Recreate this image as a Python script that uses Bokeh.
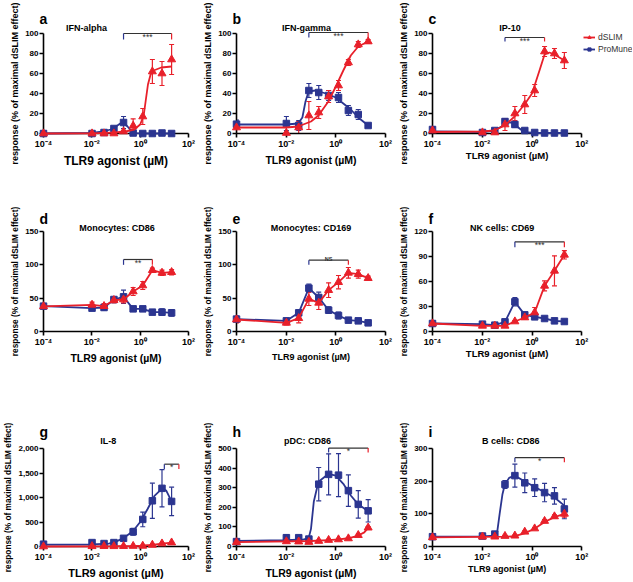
from bokeh.plotting import figure
from bokeh.layouts import gridplot
from bokeh.models import (Range1d, FixedTicker, CustomJSTickFormatter, NumeralTickFormatter,
                          Whisker, TeeHead, ColumnDataSource, Legend, LegendItem)
from bokeh.embed import file_html
from bokeh.resources import INLINE
from bokeh.core.properties import value

# ------------------------------------------------------------------ data
dose = [1e-4, 0.0102, 0.032, 0.082, 0.205, 0.512, 1.28, 3.2, 8.0, 20.0]
x_ticks = [1e-4, 1e-2, 1, 100]

# a  IFN-alpha
a_dslim = [0, 0, 0, 0, 2, 7.7, 17, 62, 60, 74]
a_dslim_err = [0.5, 0.5, 0.5, 0.5, 1, 7, 8, 12, 12, 15]
a_promune = [0, 0, 1, 5, 11, 0.5, 0, 0, 0.5, 0]
a_promune_err = [0.5, 0.5, 0.5, 1.5, 6, 0.5, 0.3, 0.3, 0.3, 0.3]
a_fit_dslim_x = [1e-4, 0.01, 0.1, 0.3, 0.57, 1.0, 1.4, 1.7, 2.1, 2.7, 3.6, 7.5, 20]
a_fit_dslim_y = [0, 0.2, 1, 2.5, 4, 9, 18, 33, 49, 59, 63, 66, 67]
a_fit_promune_x = [1e-4, 0.01, 0.03, 0.06, 0.1, 0.15, 0.2, 0.3, 0.45, 0.7, 1.5, 20]
a_fit_promune_y = [0, 0.5, 2, 4, 7, 10, 11, 7, 2, 0.3, 0, 0]

# b  IFN-gamma
b_dslim = [6, 0.5, 6, 18, 21, 37, 48, 71, 89, 92]
b_dslim_err = [6, 0.5, 6, 14, 6, 6, 5, 3, 3, 2]
b_promune = [9.3, 10, 8, 43, 41, 38, 36, 23, 19, 8]
b_promune_err = [4, 7, 5, 7, 7, 5, 5, 5, 5, 2]
b_fit_dslim_x = [1e-4, 0.01, 0.03, 0.1, 0.2, 0.5, 1, 2, 4, 8, 20]
b_fit_dslim_y = [6, 6, 7, 12, 18, 32, 47, 63, 78, 87, 92]
b_fit_promune_x = [1e-4, 0.01, 0.03, 0.045, 0.06, 0.08, 0.15, 0.4, 1, 2, 4, 8, 20]
b_fit_promune_y = [9, 9, 10, 16, 32, 42, 43, 40, 36, 30, 24, 16, 8]

# c  IP-10
c_dslim = [3, 1, 1, 9, 20, 29, 43, 82, 80, 73]
c_dslim_err = [4, 1, 1, 6, 7, 9, 6, 5, 5, 8]
c_promune = [4, 1, 3, 12, 9, 3, 1, 0.5, 0.5, 0.5]
c_promune_err = [3, 1, 1, 3, 3, 1, 0.5, 0.3, 0.3, 0.3]
c_fit_dslim_x = [1e-4, 0.01, 0.03, 0.08, 0.2, 0.5, 1, 2, 3.2, 5, 8, 20]
c_fit_dslim_y = [1.5, 2, 3, 8, 17, 29, 40, 63, 79, 81, 79, 73]
c_fit_promune_x = [1e-4, 0.01, 0.03, 0.06, 0.1, 0.15, 0.25, 0.4, 0.7, 1.5, 20]
c_fit_promune_y = [2, 1.5, 3, 7, 11, 11, 7, 3, 1, 0.5, 0.5]

# d  Monocytes: CD86
d_dslim = [37.7, 40, 38, 47, 48, 60, 69, 92, 88, 89]
d_dslim_err = [3, 4, 4, 4, 5, 6, 6, 3, 4, 4]
d_promune = [38, 35, 36, 48, 52, 34, 34, 29, 29, 28]
d_promune_err = [3, 3, 4, 2, 10, 2, 2, 3, 5, 5]

# e  Monocytes: CD169
e_dslim = [18, 13, 20, 49, 43, 62, 74, 88, 86, 80]
e_dslim_err = [5, 3, 7, 10, 10, 11, 10, 8, 6, 3]
e_promune = [18.6, 16, 28, 65, 51, 32, 24, 17, 16, 13]
e_promune_err = [4, 2, 4, 6, 8, 5, 5, 2, 2, 2]

# f  NK cells: CD69
f_dslim = [9.6, 6.8, 6.8, 6.8, 12, 16.8, 22.8, 54.8, 72.8, 92]
f_dslim_err = [3, 2, 2, 2, 1, 2, 6, 6, 18, 5]
f_promune = [9.6, 8.8, 7.6, 11.6, 35.6, 20, 17.6, 15.6, 12.8, 12]
f_promune_err = [2, 2, 2, 2, 5, 2, 2, 1, 1, 1]

# g  IL-8
g_dslim = [0, 5, 7, 5, 7, 10, 13, 33, 60, 80]
g_dslim_err = [3, 3, 3, 3, 3, 3, 5, 8, 10, 12]
g_promune = [47, 80, 60, 80, 167, 300, 553, 933, 1187, 920]
g_promune_err = [15, 40, 20, 20, 30, 70, 150, 360, 380, 290]
g_fit_dslim_x = [1e-4, 0.1, 0.5, 1, 3, 8, 20]
g_fit_dslim_y = [0, 5, 10, 15, 33, 60, 80]
g_fit_promune_x = [1e-4, 0.01, 0.05, 0.1, 0.2, 0.5, 1, 2, 4, 8, 12, 20]
g_fit_promune_y = [40, 45, 60, 100, 170, 310, 500, 760, 1040, 1180, 1140, 920]

# h  pDC: CD86
h_dslim = [21.5, 26, 25, 23, 28, 33, 36, 41, 58, 96]
h_dslim_err = [5, 3, 3, 3, 3, 3, 3, 4, 5, 5]
h_promune = [25, 45, 45, 38, 318, 368, 364, 285, 215, 182]
h_promune_err = [10, 15, 10, 5, 85, 105, 110, 80, 70, 57]
h_fit_dslim_x = [1e-4, 0.1, 0.5, 1.3, 3.2, 8, 14, 20]
h_fit_dslim_y = [22, 28, 33, 36, 42, 56, 72, 95]
h_fit_promune_x = [1e-4, 0.01, 0.05, 0.08, 0.1, 0.13, 0.2, 0.5, 1, 2, 4, 8, 20]
h_fit_promune_y = [28, 32, 36, 42, 90, 230, 330, 370, 362, 320, 260, 215, 180]

# i  B cells: CD86
i_dslim = [28, 30, 30, 32, 33, 45, 55, 78, 92, 100]
i_dslim_err = [2, 2, 2, 2, 2, 3, 3, 4, 5, 10]
i_promune = [30, 32, 38, 190, 217, 195, 180, 165, 155, 115]
i_promune_err = [3, 3, 4, 12, 35, 30, 27, 28, 25, 30]
i_fit_dslim_x = [1e-4, 0.1, 0.2, 0.5, 1.3, 3.2, 8, 20]
i_fit_dslim_y = [28, 30, 32, 40, 55, 75, 90, 100]
i_fit_promune_x = [1e-4, 0.01, 0.03, 0.04, 0.05, 0.065, 0.08, 0.12, 0.2, 0.5, 1.3, 3.2, 8, 20]
i_fit_promune_y = [30, 31, 33, 45, 100, 160, 188, 210, 217, 200, 182, 166, 150, 125]

# significance brackets: (from dose, to dose, level, tick end, label)
a_bracket = (0.205, 20, 100, 94, "***")
b_bracket = (0.082, 20, 101, 96, "***")
c_bracket = (0.082, 3.2, 96, 92, "***")
d_bracket = (0.205, 3.2, 108, 100, "**")
e_bracket = (0.082, 3.2, 107, 100, "NS")
f_bracket = (0.205, 20, 107.6, 101, "***")
g_bracket = (10, 40, 1680, 1580, "*")
h_bracket = (0.512, 20, 502, 480, "*")
i_bracket = (0.205, 20, 272, 258, "*")

# ------------------------------------------------------------------ style
FONT = "Liberation Sans"
RED = "#e8202a"
BLUE = "#2b3590"
DARK = "#333333"
XLABEL = "TLR9 agonist (\u00b5M)"
YLABEL = "response (% of maximal dSLIM effect)"

SUP_JS = """
const sup = {"-": "\u207b", "0": "\u2070", "1": "\u00b9", "2": "\u00b2", "3": "\u00b3",
             "4": "\u2074", "5": "\u2075", "6": "\u2076", "7": "\u2077", "8": "\u2078", "9": "\u2079"};
const e = Math.round(Math.log10(tick));
let s = "";
for (const c of String(e)) { s += sup[c]; }
return "10" + s;
"""

panels = [
    dict(letter="a", title="IFN-alpha", title_at=0.006, ymax=100, yticks=[0, 20, 40, 60, 80, 100],
         dslim=a_dslim, dslim_err=a_dslim_err, promune=a_promune, promune_err=a_promune_err,
         fit=(a_fit_dslim_x, a_fit_dslim_y, a_fit_promune_x, a_fit_promune_y), bracket=a_bracket,
         xlab="12px"),
    dict(letter="b", title="IFN-gamma", title_at=0.066, ymax=100, yticks=[0, 20, 40, 60, 80, 100],
         dslim=b_dslim, dslim_err=b_dslim_err, promune=b_promune, promune_err=b_promune_err,
         fit=(b_fit_dslim_x, b_fit_dslim_y, b_fit_promune_x, b_fit_promune_y), bracket=b_bracket,
         xlab="10.5px"),
    dict(letter="c", title="IP-10", title_at=0.13, ymax=100, yticks=[0, 20, 40, 60, 80, 100],
         dslim=c_dslim, dslim_err=c_dslim_err, promune=c_promune, promune_err=c_promune_err,
         fit=(c_fit_dslim_x, c_fit_dslim_y, c_fit_promune_x, c_fit_promune_y), bracket=c_bracket,
         xlab="9.5px"),
    dict(letter="d", title="Monocytes: CD86", title_at=0.11, ymax=150, yticks=[0, 50, 100, 150],
         dslim=d_dslim, dslim_err=d_dslim_err, promune=d_promune, promune_err=d_promune_err,
         fit=None, bracket=d_bracket, xlab="10.5px"),
    dict(letter="e", title="Monocytes: CD169", title_at=0.1, ymax=150, yticks=[0, 50, 100, 150],
         dslim=e_dslim, dslim_err=e_dslim_err, promune=e_promune, promune_err=e_promune_err,
         fit=None, bracket=e_bracket, xlab="9px"),
    dict(letter="f", title="NK cells: CD69", title_at=0.063, ymax=120, yticks=[0, 30, 60, 90, 120],
         dslim=f_dslim, dslim_err=f_dslim_err, promune=f_promune, promune_err=f_promune_err,
         fit=None, bracket=f_bracket, xlab="9.5px"),
    dict(letter="g", title="IL-8", title_at=0.048, ymax=2000, yticks=[0, 500, 1000, 1500, 2000],
         dslim=g_dslim, dslim_err=g_dslim_err, promune=g_promune, promune_err=g_promune_err,
         fit=(g_fit_dslim_x, g_fit_dslim_y, g_fit_promune_x, g_fit_promune_y), bracket=g_bracket,
         xlab="11px"),
    dict(letter="h", title="pDC: CD86", title_at=0.072, ymax=500, yticks=[0, 100, 200, 300, 400, 500],
         dslim=h_dslim, dslim_err=h_dslim_err, promune=h_promune, promune_err=h_promune_err,
         fit=(h_fit_dslim_x, h_fit_dslim_y, h_fit_promune_x, h_fit_promune_y), bracket=h_bracket,
         xlab="10.5px"),
    dict(letter="i", title="B cells: CD86", title_at=0.14, ymax=300, yticks=[0, 100, 200, 300],
         dslim=i_dslim, dslim_err=i_dslim_err, promune=i_promune, promune_err=i_promune_err,
         fit=(i_fit_dslim_x, i_fit_dslim_y, i_fit_promune_x, i_fit_promune_y), bracket=i_bracket,
         xlab="9px"),
]

DATA_W = 150                    # pixels spanned by the six decades 1e-4 .. 1e2
col_w = [200, 196, 236]
col_left = [38, 35, 35]
col_right = [12, 11, 0]         # third column: frame runs to the right edge (room for legend)
row_h = [206, 217, 158]
row_top = [33, 25, 25]
row_bottom = [73, 92, 33]
row_ylab = ["9px", "8.3px", "8.3px"]
row_letter_off = [15, 13, 17]
row_title_off = [6, 4, 8]


def make_panel(spec, r, c):
    frame_w = col_w[c] - col_left[c] - col_right[c]
    x_end = 10 ** (-4 + 6 * frame_w / DATA_W)
    p = figure(width=col_w[c], height=row_h[r], x_axis_type="log",
               x_range=Range1d(1e-4, x_end), y_range=Range1d(0, spec["ymax"]),
               output_backend="svg", toolbar_location=None,
               min_border_left=col_left[c], min_border_right=col_right[c],
               min_border_top=row_top[r], min_border_bottom=row_bottom[r])
    p.outline_line_color = None
    p.xgrid.visible = False
    p.ygrid.visible = False
    p.background_fill_color = "white"
    p.border_fill_color = "white"

    xa, ya = p.xaxis[0], p.yaxis[0]
    xa.bounds = (1e-4, 1e2)
    xa.ticker = FixedTicker(ticks=x_ticks)
    xa.formatter = CustomJSTickFormatter(code=SUP_JS)
    ya.ticker = FixedTicker(ticks=spec["yticks"])
    ya.formatter = NumeralTickFormatter(format="0,0")
    for ax in (xa, ya):
        ax.axis_line_width = 1.6
        ax.axis_line_color = "black"
        ax.major_tick_line_width = 1.6
        ax.major_tick_line_color = "black"
        ax.major_tick_out = 4
        ax.major_tick_in = 0
        ax.minor_tick_out = 0
        ax.minor_tick_in = 0
        ax.major_label_text_font = FONT
        ax.major_label_text_font_style = "bold"
        ax.major_label_text_font_size = "8px"
        ax.major_label_text_color = "black"
        ax.major_label_standoff = 1
        ax.axis_label_text_font = FONT
        ax.axis_label_text_font_style = "bold"
        ax.axis_label_text_color = "black"
        ax.axis_label_standoff = 2
    xa.major_label_text_font_size = "9px"
    ya.axis_label = YLABEL
    ya.axis_label_text_font_size = row_ylab[r]
    if col_right[c] > 0:
        xa.axis_label = XLABEL
        xa.axis_label_text_font_size = spec["xlab"]
    else:
        # frame is wider than the axis here, so centre the label under the axis itself
        p.text(x=[10 ** -1], y=[0], text=[XLABEL], y_offset=22,
               text_font=value(FONT), text_font_size=value(spec["xlab"]), text_font_style="bold",
               text_color="black", text_align="center", text_baseline="middle", level="overlay")

    # error bars
    for key, color in (("promune", BLUE), ("dslim", RED)):
        vals, errs = spec[key], spec[key + "_err"]
        src = ColumnDataSource(dict(x=dose,
                                    upper=[v + e for v, e in zip(vals, errs)],
                                    lower=[max(v - e, 0) for v, e in zip(vals, errs)]))
        w = Whisker(source=src, base="x", upper="upper", lower="lower",
                    line_color=color, line_width=1.2,
                    upper_head=TeeHead(size=5, line_color=color, line_width=1.2),
                    lower_head=TeeHead(size=5, line_color=color, line_width=1.2))
        p.add_layout(w)

    # lines (fit curves or point-to-point)
    if spec["fit"] is not None:
        fdx, fdy, fpx, fpy = spec["fit"]
    else:
        fdx, fdy, fpx, fpy = dose, spec["dslim"], dose, spec["promune"]
    lb = p.line(fpx, fpy, line_color=BLUE, line_width=1.8, level="overlay")
    sb = p.scatter(dose, spec["promune"], marker="square", size=6.5,
                   fill_color=BLUE, line_color=BLUE, level="overlay")
    lr = p.line(fdx, fdy, line_color=RED, line_width=1.8, level="overlay")
    sr = p.scatter(dose, spec["dslim"], marker="triangle", size=8,
                   fill_color=RED, line_color=RED, level="overlay")
    rends = dict(lb=lb, sb=sb, lr=lr, sr=sr)

    # significance bracket
    bx0, bx1, by, bt, btxt = spec["bracket"]
    p.segment(x0=[bx0], y0=[by], x1=[bx1], y1=[by], line_color=DARK, line_width=1.2, level="overlay")
    p.segment(x0=[bx0], y0=[by], x1=[bx0], y1=[bt], line_color=BLUE, line_width=1.2, level="overlay")
    p.segment(x0=[bx1], y0=[by], x1=[bx1], y1=[bt], line_color=RED, line_width=1.2, level="overlay")
    small = btxt == "NS"
    p.text(x=[(bx0 * bx1) ** 0.5], y=[by], text=[btxt], text_align="center",
           text_baseline="alphabetic", y_offset=-1 if small else 3,
           text_font=value(FONT), text_font_size=value("5.5px" if small else "8.5px"),
           text_font_style="bold" if small else "normal",
           text_color=DARK, level="overlay")

    # panel letter and title (overlay-level text, drawn above the plot area)
    p.text(x=[1e-4], y=[spec["ymax"]], text=[spec["letter"]], x_offset=-4,
           y_offset=-row_letter_off[r],
           text_font=value(FONT), text_font_size=value("14px"), text_font_style="bold",
           text_color="black", text_align="left", text_baseline="alphabetic", level="overlay")
    p.text(x=[spec["title_at"]], y=[spec["ymax"]], text=[spec["title"]], y_offset=-row_title_off[r],
           text_font=value(FONT), text_font_size=value("9px"), text_font_style="bold",
           text_color="black", text_align="center", text_baseline="alphabetic", level="overlay")
    return p, rends


figs = []
for idx, spec in enumerate(panels):
    r, c = divmod(idx, 3)
    p, rends = make_panel(spec, r, c)
    if idx == 2:
        legend = Legend(items=[LegendItem(label="dSLIM", renderers=[rends["lr"], rends["sr"]]),
                               LegendItem(label="ProMune", renderers=[rends["lb"], rends["sb"]])],
                        location=(DATA_W + 1, 79), orientation="vertical",
                        label_text_font=FONT, label_text_font_size="8.5px", label_text_color=DARK,
                        glyph_width=12, glyph_height=8, label_standoff=3, spacing=2,
                        label_height=9, padding=0, margin=0,
                        border_line_color=None, background_fill_alpha=0)
        p.add_layout(legend)
    figs.append(p)

grid = gridplot([figs[0:3], figs[3:6], figs[6:9]], toolbar_location=None)

open("out.html", "w").write(file_html(grid, INLINE))
